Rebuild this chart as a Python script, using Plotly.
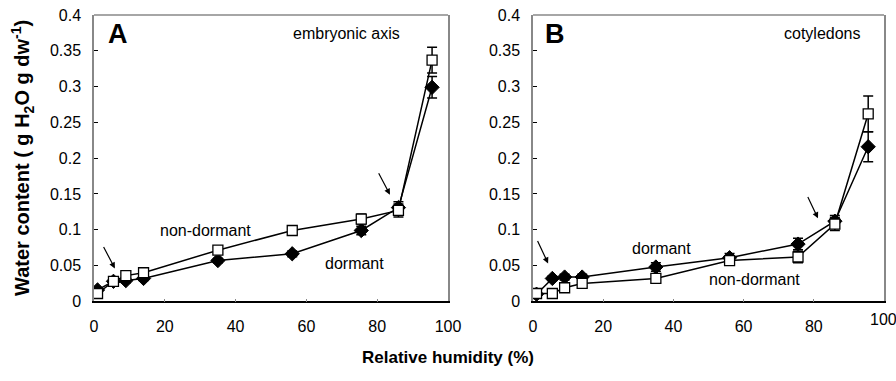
import plotly.graph_objects as go

rh = [1, 5.5, 9, 14, 35, 56, 75.5, 86, 95.5]

a_nondormant = [0.011, 0.028, 0.036, 0.040, 0.0715, 0.099, 0.115, 0.127, 0.337]
a_nondormant_err = [0.003, 0.003, 0.004, 0.004, 0.004, 0.005, 0.007, 0.009, 0.018]
a_dormant = [0.016, 0.028, 0.029, 0.032, 0.057, 0.0665, 0.099, 0.131, 0.299]
a_dormant_err = [0.003, 0.003, 0.003, 0.003, 0.003, 0.004, 0.006, 0.008, 0.015]

b_nondormant = [0.011, 0.011, 0.019, 0.025, 0.032, 0.057, 0.062, 0.108, 0.262]
b_nondormant_err = [0.003, 0.003, 0.003, 0.005, 0.006, 0.006, 0.008, 0.009, 0.025]
b_dormant = [0.010, 0.032, 0.034, 0.034, 0.048, 0.061, 0.080, 0.112, 0.216]
b_dormant_err = [0.003, 0.003, 0.004, 0.004, 0.006, 0.006, 0.008, 0.008, 0.021]

x_ticks = [0, 20, 40, 60, 80, 100]
y_ticks = [0, 0.05, 0.1, 0.15, 0.2, 0.25, 0.3, 0.35, 0.4]
y_tick_labels = ["0", "0.05", "0.1", "0.15", "0.2", "0.25", "0.3", "0.35", "0.4"]

FONT = "Liberation Sans, Arial, sans-serif"

fig = go.Figure()

def add_series(xa, ya, y, err, kind):
    if kind == "dormant":
        marker = dict(symbol="diamond", size=11, color="black", line=dict(color="black", width=1))
    else:
        marker = dict(symbol="square", size=10, color="white", line=dict(color="black", width=1.3))
    fig.add_trace(go.Scatter(
        x=rh, y=y, xaxis=xa, yaxis=ya, mode="lines+markers",
        line=dict(color="black", width=1.5), marker=marker,
        error_y=dict(type="data", array=err, visible=True, color="black", thickness=1.5, width=5),
        showlegend=False, hoverinfo="skip"))

add_series("x", "y", a_dormant, a_dormant_err, "dormant")
add_series("x", "y", a_nondormant, a_nondormant_err, "nondormant")
add_series("x2", "y2", b_dormant, b_dormant_err, "dormant")
add_series("x2", "y2", b_nondormant, b_nondormant_err, "nondormant")

ydom = [0.209, 0.9606]
xcommon = dict(range=[0, 100], tickvals=x_ticks, ticks="inside", ticklen=3, tickcolor="#888",
               showline=True, linecolor="black", linewidth=1.5, mirror=False, showgrid=False,
               zeroline=False, ticklabelstandoff=10, automargin=False,
               tickfont=dict(family=FONT, size=16, color="black"))
ycommon = dict(range=[0, 0.4], tickvals=y_ticks, ticktext=y_tick_labels, ticks="inside", ticklen=4,
               tickcolor="black", showline=True, linecolor="#888", linewidth=1.5, mirror=True,
               showgrid=False, zeroline=False, ticklabelstandoff=8, automargin=False,
               tickfont=dict(family=FONT, size=16, color="black"))

fig.update_layout(
    width=896, height=381, margin=dict(l=0, r=0, t=0, b=0, autoexpand=False),
    plot_bgcolor="white", paper_bgcolor="white",
    xaxis=dict(domain=[0.1049, 0.5], anchor="y", **xcommon),
    yaxis=dict(domain=ydom, anchor="x", **ycommon),
    xaxis2=dict(domain=[0.5949, 0.9866], anchor="y2", **xcommon),
    yaxis2=dict(domain=ydom, anchor="x2", **ycommon),
)

for xr, yr in [("x domain", "y domain"), ("x2 domain", "y2 domain")]:
    fig.add_shape(type="line", xref=xr, yref=yr, x0=0, x1=1, y0=1, y1=1,
                  line=dict(color="#888", width=1.5))

def txt(xr, yr, x, y, t, size=16, bold=False):
    fig.add_annotation(xref=xr, yref=yr, x=x, y=y, text=("<b>%s</b>" % t) if bold else t,
                       showarrow=False, xanchor="center", yanchor="middle",
                       font=dict(family=FONT, size=size, color="black"))

def arrow(xr, yr, x0, y0, x1, y1):
    fig.add_annotation(xref=xr, yref=yr, axref=xr, ayref=yr, x=x1, y=y1, ax=x0, ay=y0,
                       text="", showarrow=True, arrowhead=2, arrowsize=1, arrowwidth=1.2,
                       arrowcolor="black")

txt("x", "y", 6.8, 0.3735, "A", size=27, bold=True)
txt("x", "y", 71.2, 0.3735, "embryonic axis")
txt("x", "y", 31.5, 0.099, "non-dormant")
txt("x", "y", 73.6, 0.053, "dormant")
arrow("x", "y", 2.5, 0.078, 5.9, 0.046)
arrow("x", "y", 80.2, 0.181, 83.6, 0.149)

txt("x2", "y2", 6.3, 0.3736, "B", size=27, bold=True)
txt("x2", "y2", 82.6, 0.3736, "cotyledons")
txt("x2", "y2", 36.5, 0.074, "dormant")
txt("x2", "y2", 63.2, 0.0304, "non-dormant")
arrow("x2", "y2", 1.1, 0.0865, 4.3, 0.053)
arrow("x2", "y2", 78.1, 0.148, 81.2, 0.116)

# last tick label of panel B sits at the page edge (plotly hides it), so draw it as text
fig.add_annotation(xref="x2", yref="y2 domain", x=x_ticks[-1], y=0, yshift=-8,
                   xanchor="center", yanchor="top", text=str(x_ticks[-1]), showarrow=False,
                   font=dict(family=FONT, size=16, color="black"))

fig.add_annotation(xref="paper", yref="paper", x=22 / 896, y=1 - 158 / 381,
                   xanchor="center", yanchor="middle",
                   text="<b>Water content ( g H<sub>2</sub>O g dw<sup>-1</sup>)</b>",
                   textangle=-90, showarrow=False, font=dict(family=FONT, size=20, color="black"))
fig.add_annotation(xref="paper", yref="paper", x=448 / 896, y=1 - 357 / 381,
                   xanchor="center", yanchor="middle",
                   text="<b>Relative humidity (%)</b>", showarrow=False,
                   font=dict(family=FONT, size=17, color="black"))

fig.write_html("out.html")
